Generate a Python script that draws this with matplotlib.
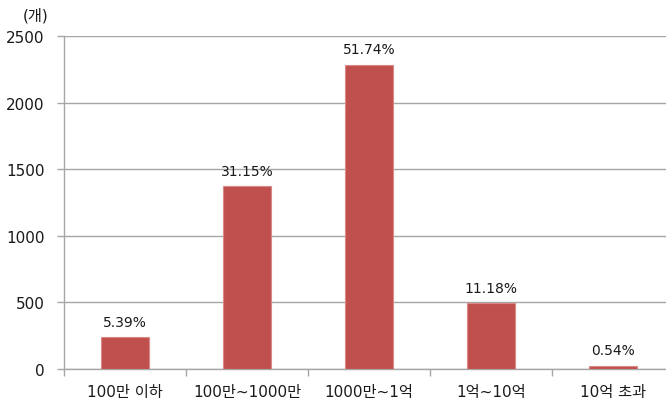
import matplotlib
matplotlib.use("Agg")
import matplotlib.pyplot as plt
import numpy as np

plt.rcParams['font.family'] = ['DejaVu Sans', 'Noto Sans CJK KR']

categories = ['100만 이하', '100만~1000만', '1000만~1억', '1억~10억', '10억 초과']
values = [238, 1375, 2285, 494, 24]
pct_labels = ['5.39%', '31.15%', '51.74%', '11.18%', '0.54%']
yticks = [0, 500, 1000, 1500, 2000, 2500]

W, H = 666, 410
fig = plt.figure(figsize=(W / 100, H / 100), dpi=100)
left, right, bottom, top = 64, 674, 370, 37
ax = fig.add_axes([left / W, 1 - bottom / H, (right - left) / W, (bottom - top) / H])

x = np.arange(len(categories))
ax.bar(x, values, width=0.39, color='#C0504D', edgecolor='#D98A88', linewidth=0.8, zorder=3)
ax.set_xlim(-0.5, len(categories) - 0.5)
ax.set_ylim(0, 2500)
ax.set_yticks(yticks)
ax.set_yticklabels([str(v) for v in yticks], fontsize=11, color='#1a1a1a')
ax.yaxis.grid(True, color='#A6A6A6', linewidth=1.0, zorder=0)
ax.set_axisbelow(True)

ax.set_xticks(x)
ax.set_xticklabels(categories, fontsize=11, color='#1a1a1a')
ax.set_xticks(np.arange(len(categories) + 1) - 0.5, minor=True)
ax.tick_params(axis='x', which='major', length=0, pad=11)
ax.tick_params(axis='x', which='minor', length=5, color='#A6A6A6', width=1)
ax.tick_params(axis='y', length=5, color='#A6A6A6', width=1, pad=9)

for s in ['top', 'right']:
    ax.spines[s].set_visible(False)
for s in ['left', 'bottom']:
    ax.spines[s].set_color('#A6A6A6')
    ax.spines[s].set_linewidth(1.0)

for xi, v, lab in zip(x, values, pct_labels):
    ax.annotate(lab, (xi, v), xytext=(0, 6), textcoords='offset points',
                ha='center', va='bottom', fontsize=10, color='#1a1a1a')

fig.text(23 / W, 1 - 16 / H, '(개)', fontsize=11, color='#1a1a1a', ha='left', va='center')

fig.savefig('out.png', dpi=100)
